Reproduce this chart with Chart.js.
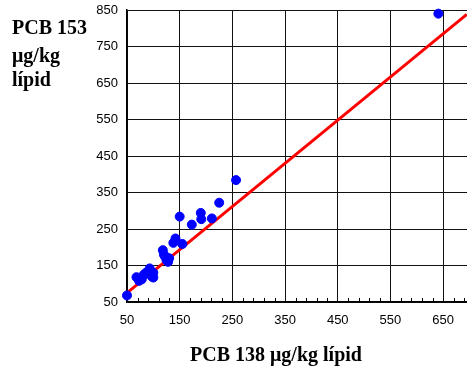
<!DOCTYPE html>
<html>
<head>
<meta charset="utf-8">
<script src="https://cdn.jsdelivr.net/npm/chart.js@4/dist/chart.umd.min.js"></script>
<style>
  html, body { margin: 0; padding: 0; background: #fff; overflow: hidden; }
  #wrap { width: 490px; height: 374px; position: relative; }
</style>
</head>
<body>
<div id="wrap"><canvas id="chart"></canvas></div>
<script>
// ── DATA ──
const pcb138 = [50, 68, 73, 78, 82, 86, 93, 95, 97, 100, 100, 118, 120, 122, 125, 128, 130, 138, 142, 150, 155, 173, 190, 191, 211, 225, 257, 641];
const pcb153 = [68, 118, 108, 112, 125, 130, 142, 135, 120, 117, 130, 192, 180, 175, 165, 160, 170, 212, 224, 284, 209, 262, 294, 277, 279, 322, 384, 840];
const fitX = [50, 695];
const fitY = [75, 838];
const xTicks = [50, 150, 250, 350, 450, 550, 650];
const yTicks = [50, 150, 250, 350, 450, 550, 650, 750, 850];
const xTitle = 'PCB 138 μg/kg lípid';
const yTitle = ['PCB 153', 'μg/kg', 'lípid'];

const points = pcb138.map((x, i) => ({ x, y: pcb153[i] }));
const fitLine = fitX.map((x, i) => ({ x, y: fitY[i] }));

// ── PLUGINS ──
const minorTicks = {
  id: 'minorTicks',
  afterDatasetsDraw(chart) {
    const { ctx, scales: { x }, chartArea } = chart;
    ctx.save();
    ctx.strokeStyle = '#000';
    ctx.lineWidth = 1;
    for (let v = 70; v <= 730; v += 20) {
      if ((v - 50) % 100 === 0) continue;
      const px = Math.round(x.getPixelForValue(v)) + 0.5;
      ctx.beginPath();
      ctx.moveTo(px, chartArea.bottom);
      ctx.lineTo(px, chartArea.bottom - 4);
      ctx.stroke();
    }
    ctx.restore();
  }
};

const titles = {
  id: 'titles',
  afterDraw(chart) {
    const { ctx } = chart;
    ctx.save();
    ctx.fillStyle = '#000';
    ctx.font = 'bold 20px "Liberation Serif", "Times New Roman", serif';
    ctx.textBaseline = 'middle';
    ctx.textAlign = 'left';
    const ys = [29, 57, 81];
    yTitle.forEach((t, i) => ctx.fillText(t, 12, ys[i]));
    ctx.textAlign = 'center';
    ctx.fillText(xTitle, 276, 356);
    ctx.restore();
  }
};

// no label overflow padding, chart area is fixed by hand
function noPad(s) {
  s.paddingTop = 0; s.paddingBottom = 0;
  s.paddingLeft = 0; s.paddingRight = 0;
}

// ── CHART ──
const tickFont = { family: '"Liberation Sans", Arial, sans-serif', size: 13 };

new Chart(document.getElementById('chart'), {
  type: 'scatter',
  data: {
    datasets: [
      {
        type: 'line',
        data: fitLine,
        borderColor: '#ff0000',
        borderWidth: 3,
        pointRadius: 0,
        fill: false,
        clip: false,
        order: 2
      },
      {
        data: points,
        backgroundColor: '#0000ff',
        borderColor: '#0000ff',
        pointRadius: 4.5,
        pointHoverRadius: 4.5,
        clip: false,
        order: 1
      }
    ]
  },
  options: {
    responsive: true,
    maintainAspectRatio: false,
    animation: false,
    events: [],
    layout: { autoPadding: false, padding: { top: 10, right: 0, bottom: 0, left: 0 } },
    plugins: { legend: { display: false }, tooltip: { enabled: false } },
    scales: {
      x: {
        type: 'linear',
        min: 50,
        max: 739,
        afterBuildTicks: s => { s.ticks = xTicks.map(value => ({ value })); },
        afterFit: s => { s.height = 72; noPad(s); },
        grid: { color: '#111', lineWidth: 1, drawTicks: false },
        border: { color: '#000', width: 1.5 },
        ticks: { font: tickFont, color: '#000', padding: 11, maxRotation: 0 }
      },
      y: {
        type: 'linear',
        min: 50,
        max: 850,
        afterBuildTicks: s => { s.ticks = yTicks.map(value => ({ value })); },
        afterFit: s => { s.width = 127; noPad(s); },
        grid: { color: '#111', lineWidth: 1, drawTicks: false },
        border: { color: '#000', width: 1.5 },
        ticks: { font: tickFont, color: '#000', padding: 9 }
      }
    }
  },
  plugins: [minorTicks, titles]
});
</script>
</body>
</html>
